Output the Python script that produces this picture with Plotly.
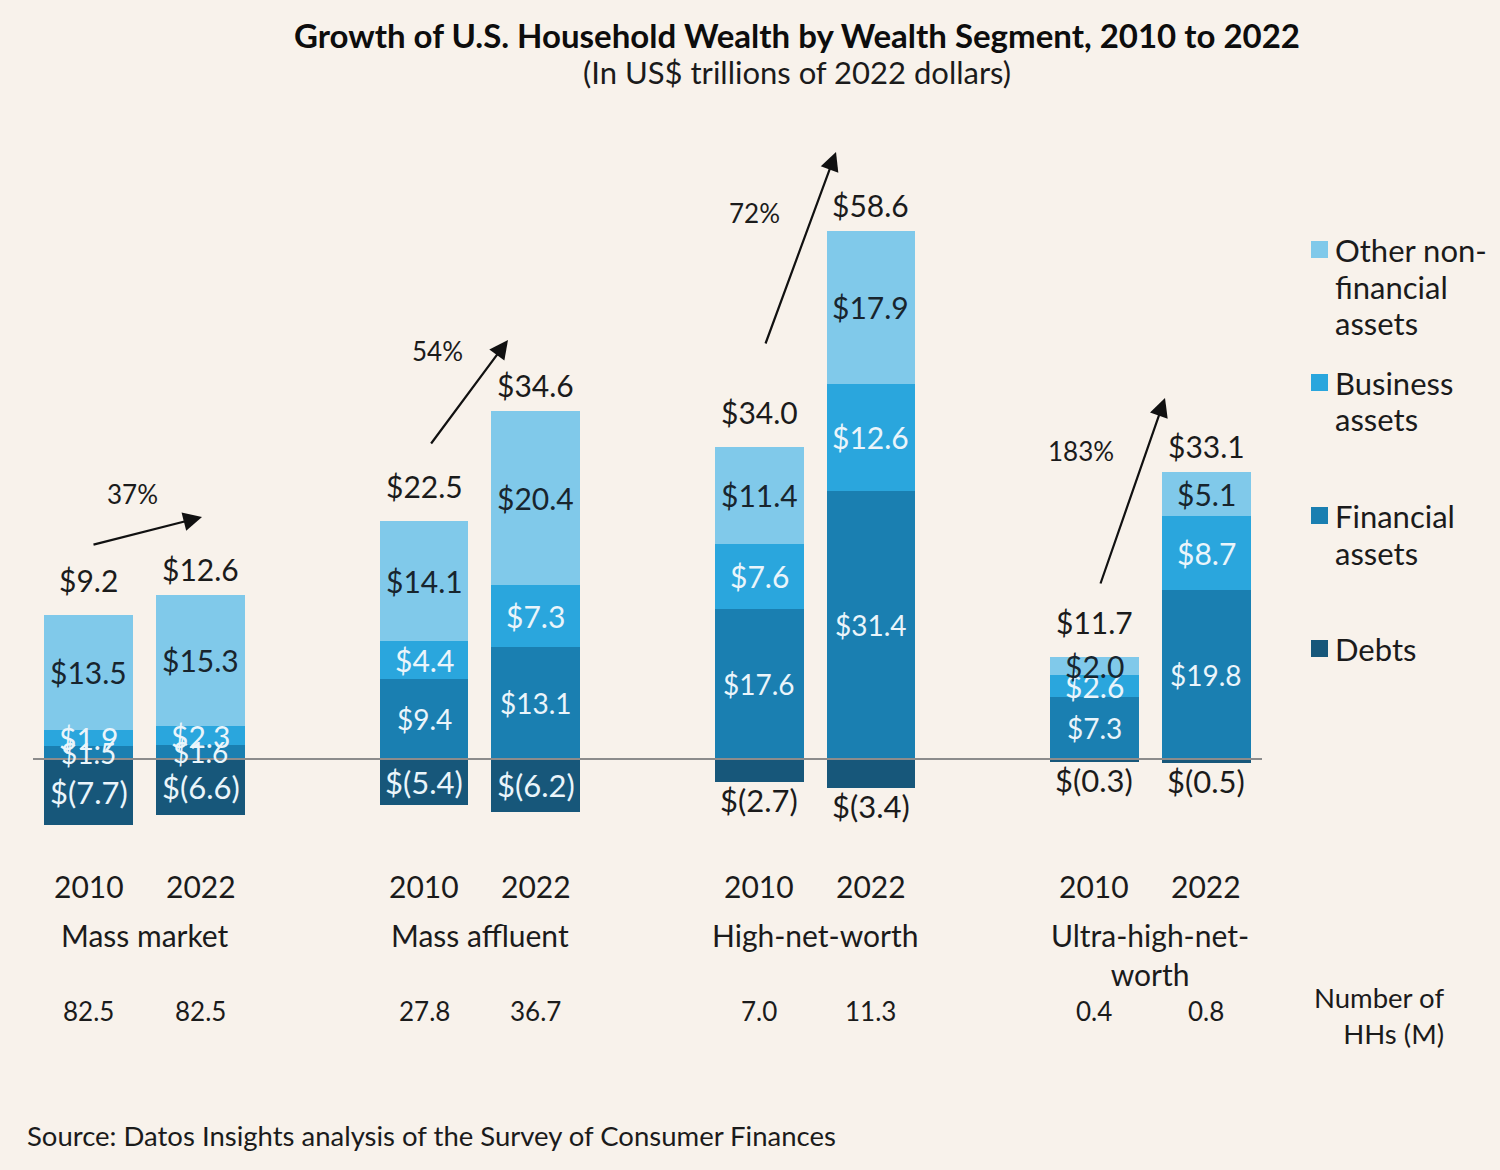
import plotly.graph_objects as go

# ---------------- data ----------------
segments = ["Mass market", "Mass affluent", "High-net-worth", "Ultra-high-net-<br>worth"]
years = ["2010", "2022"]
financial = [1.5, 1.6, 9.4, 13.1, 17.6, 31.4, 7.3, 19.8]
business = [1.9, 2.3, 4.4, 7.3, 7.6, 12.6, 2.6, 8.7]
other_nonfin = [13.5, 15.3, 14.1, 20.4, 11.4, 17.9, 2.0, 5.1]
debts = [-7.7, -6.6, -5.4, -6.2, -2.7, -3.4, -0.3, -0.5]
net_totals = [9.2, 12.6, 22.5, 34.6, 34.0, 58.6, 11.7, 33.1]
growth_pct = ["37%", "54%", "72%", "183%"]
households_m = ["82.5", "82.5", "27.8", "36.7", "7.0", "11.3", "0.4", "0.8"]

# ---------------- styling ----------------
BG = "#f8f2eb"
C_OTHER = "#80c9ea"
C_BUS = "#2aa6dd"
C_FIN = "#1a7fb1"
C_DEBT = "#17577a"
DARK = "#1b1b1b"
LIGHT = "#eaf5fb"
FONT = "Lato"

W, H = 1500, 1170
ML, MR, MT, MB = 33, 238, 120, 70
PW, PH = W - ML - MR, H - MT - MB
ZERO_PX = 759
PX_PER_UNIT = 8.53
XMIN, XMAX = -0.5, 10.5
Y_TOP = (ZERO_PX - MT) / PX_PER_UNIT
Y_BOT = -((H - MB) - ZERO_PX) / PX_PER_UNIT

# bar x positions: two bars per group, gap of one slot between groups
xpos = []
for g in range(len(segments)):
    xpos += [3 * g, 3 * g + 1]


def fmt(v):
    return f"$({abs(v):.1f})" if v < 0 else f"${v:.1f}"


def px_x(px):
    return (px - ML) / PW


def px_y(py):
    return (H - MB - py) / PH


def dx(px):
    return XMIN + (px - ML) / PW * (XMAX - XMIN)


def dy(py):
    return (ZERO_PX - py) / PX_PER_UNIT


fig = go.Figure()
BW = 0.795


def add_bar(vals, color, name):
    fig.add_trace(go.Bar(
        x=xpos, y=vals, name=name, width=BW,
        marker=dict(color=color, line=dict(width=0)),
        showlegend=False, hoverinfo="skip",
    ))


add_bar(financial, C_FIN, "Financial assets")
add_bar(business, C_BUS, "Business assets")
add_bar(other_nonfin, C_OTHER, "Other non-financial assets")
add_bar(debts, C_DEBT, "Debts")

ann = []


def seg_label(x, y, v, color, size, yanchor="middle", yshift=0):
    ann.append(dict(x=x, y=y, xref="x", yref="y", text=fmt(v), showarrow=False,
                    yanchor=yanchor, yshift=yshift,
                    font=dict(family=FONT, size=size, color=color)))


for i, x in enumerate(xpos):
    f, b, o, d = financial[i], business[i], other_nonfin[i], debts[i]
    seg_label(x, f / 2, f, LIGHT, 28)
    seg_label(x, f + b / 2, b, LIGHT, 30)
    seg_label(x, f + b + o / 2, o, "#18252e", 30)
    if abs(d) >= 5:
        seg_label(x, d / 2, d, LIGHT, 31)
    else:
        seg_label(x, d, d, DARK, 31, yanchor="top", yshift=3)

    # totals above bars
    top = f + b + o
    ann.append(dict(x=x, y=top, xref="x", yref="y", text=fmt(net_totals[i]),
                    showarrow=False, yanchor="bottom",
                    yshift=15 if i % 2 == 0 else 6,
                    font=dict(family=FONT, size=30, color=DARK)))
    # year labels
    ann.append(dict(x=x, y=px_y(886), xref="x", yref="paper", text=years[i % 2],
                    showarrow=False, yanchor="middle",
                    font=dict(family=FONT, size=30, color=DARK)))
    # household counts
    ann.append(dict(x=x, y=px_y(1011), xref="x", yref="paper", text=households_m[i],
                    showarrow=False, yanchor="middle",
                    font=dict(family=FONT, size=26, color=DARK)))

# segment names
for g, s in enumerate(segments):
    ann.append(dict(x=3 * g + 0.5, y=px_y(915), xref="x", yref="paper", text=s,
                    showarrow=False, yanchor="top",
                    font=dict(family=FONT, size=30, color=DARK)))

# growth arrows and percentages
arrows = [((92, 545), (202, 517)), ((430, 445), (508, 340)),
          ((765, 345), (836, 152)), ((1100, 585), (1165, 398))]
pct_pos = [(132, 494), (437, 351), (754, 213), (1081, 451)]
for g in range(len(growth_pct)):
    (tx, ty), (hx, hy) = arrows[g]
    ann.append(dict(x=dx(hx), y=dy(hy), ax=dx(tx), ay=dy(ty), xref="x", yref="y",
                    axref="x", ayref="y", text="", showarrow=True,
                    arrowhead=2, arrowsize=1.7, arrowwidth=2.2, arrowcolor="#111111"))
    px_, py_ = pct_pos[g]
    ann.append(dict(x=dx(px_), y=dy(py_), xref="x", yref="y", text=growth_pct[g],
                    showarrow=False, yanchor="middle",
                    font=dict(family=FONT, size=26, color=DARK)))

# title / subtitle / source / HH note
ann.append(dict(x=px_x(797), y=px_y(35), xref="paper", yref="paper", yanchor="middle",
                text="<b>Growth of U.S. Household Wealth by Wealth Segment, 2010 to 2022</b>",
                showarrow=False, font=dict(family=FONT, size=33, color="#0d0d0d")))
ann.append(dict(x=px_x(797), y=px_y(72), xref="paper", yref="paper", yanchor="middle",
                text="(In US$ trillions of 2022 dollars)",
                showarrow=False, font=dict(family=FONT, size=31, color=DARK)))
ann.append(dict(x=px_x(25), y=px_y(1135), xref="paper", yref="paper", xanchor="left",
                yanchor="middle",
                text="Source: Datos Insights analysis of the Survey of Consumer Finances",
                showarrow=False, font=dict(family=FONT, size=27.5, color=DARK)))
ann.append(dict(x=px_x(1446), y=px_y(1015), xref="paper", yref="paper", xanchor="right",
                yanchor="middle", align="right", text="Number of<br>HHs (M)",
                showarrow=False, font=dict(family=FONT, size=27.5, color=DARK)))

# custom legend
legend_items = [("Other non-", "financial", "assets"), ("Business", "assets"),
                ("Financial", "assets"), ("Debts",)]
legend_colors = [C_OTHER, C_BUS, C_FIN, C_DEBT]
shapes = []
for k, lines in enumerate(legend_items):
    y0 = 250 + 133 * k
    shapes.append(dict(type="rect", xref="paper", yref="paper",
                       x0=px_x(1311), x1=px_x(1328), y0=px_y(y0 - 9), y1=px_y(y0 + 8),
                       fillcolor=legend_colors[k], line=dict(width=0)))
    for j, line in enumerate(lines):
        ann.append(dict(x=px_x(1333), y=px_y(y0 + 36.5 * j), xref="paper", yref="paper",
                        xanchor="left", yanchor="middle", text=line, showarrow=False,
                        font=dict(family=FONT, size=31, color=DARK)))

# zero line
shapes.append(dict(type="line", xref="x", yref="y", x0=XMIN, x1=XMAX, y0=0, y1=0,
                   line=dict(color="#8c8c8c", width=2), layer="above"))

fig.update_layout(
    width=W, height=H,
    margin=dict(l=ML, r=MR, t=MT, b=MB),
    paper_bgcolor=BG, plot_bgcolor=BG,
    barmode="relative",
    bargap=0,
    xaxis=dict(range=[XMIN, XMAX], visible=False, fixedrange=True),
    yaxis=dict(range=[Y_BOT, Y_TOP], visible=False, fixedrange=True),
    annotations=ann,
    shapes=shapes,
    showlegend=False,
    font=dict(family=FONT, color=DARK),
)

fig.write_html("out.html")
